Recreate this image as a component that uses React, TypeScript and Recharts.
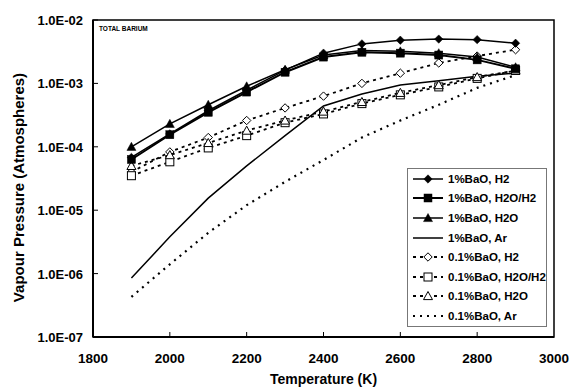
import { LineChart, Line, XAxis, YAxis, Legend, ReferenceArea, Label } from 'recharts'

// temperature (K)
const temps = [1900, 2000, 2100, 2200, 2300, 2400, 2500, 2600, 2700, 2800, 2900]

// vapour pressure (atm), 1% BaO
const bao1H2 = [6.8e-5, 1.6e-4, 3.7e-4, 7.8e-4, 1.62e-3, 3.0e-3, 4.2e-3, 4.8e-3, 5.0e-3, 4.9e-3, 4.3e-3]
const bao1H2OH2 = [6.3e-5, 1.55e-4, 3.5e-4, 7.3e-4, 1.5e-3, 2.6e-3, 3.1e-3, 3.0e-3, 2.8e-3, 2.35e-3, 1.7e-3]
const bao1H2O = [1.0e-4, 2.3e-4, 4.6e-4, 9.0e-4, 1.65e-3, 2.8e-3, 3.3e-3, 3.2e-3, 3.0e-3, 2.6e-3, 1.8e-3]
const bao1Ar = [8.5e-7, 3.8e-6, 1.55e-5, 5.0e-5, 1.5e-4, 4.4e-4, 6.8e-4, 9.4e-4, 1.1e-3, 1.3e-3, 1.45e-3]

// vapour pressure (atm), 0.1% BaO
const bao01H2 = [4.0e-5, 8.3e-5, 1.4e-4, 2.6e-4, 4.1e-4, 6.3e-4, 1.0e-3, 1.45e-3, 2.1e-3, 2.7e-3, 3.4e-3]
const bao01H2OH2 = [3.5e-5, 5.8e-5, 9.6e-5, 1.5e-4, 2.4e-4, 3.3e-4, 4.8e-4, 6.6e-4, 8.8e-4, 1.2e-3, 1.6e-3]
const bao01H2O = [5.0e-5, 7.4e-5, 1.15e-4, 1.8e-4, 2.6e-4, 3.6e-4, 5.1e-4, 7.1e-4, 9.4e-4, 1.26e-3, 1.6e-3]
const bao01Ar = [4.3e-7, 1.4e-6, 4.4e-6, 1.2e-5, 2.8e-5, 6.2e-5, 1.4e-4, 2.6e-4, 4.6e-4, 8.5e-4, 1.35e-3]

const xTicks = [1800, 2000, 2200, 2400, 2600, 2800, 3000]
const yTicks = [1e-7, 1e-6, 1e-5, 1e-4, 1e-3, 1e-2]
const yTickLabels = ['1.0E-07', '1.0E-06', '1.0E-05', '1.0E-04', '1.0E-03', '1.0E-02']

const data = temps.map((t, i) => ({
  t,
  h2_1: bao1H2[i],
  h2oh2_1: bao1H2OH2[i],
  h2o_1: bao1H2O[i],
  ar_1: bao1Ar[i],
  h2_01: bao01H2[i],
  h2oh2_01: bao01H2OH2[i],
  h2o_01: bao01H2O[i],
  ar_01: bao01Ar[i],
}))

type Shape = 'diamond' | 'square' | 'triangle' | 'none'

function Marker({ cx, cy, shape, filled }: { cx: number; cy: number; shape: Shape; filled: boolean }) {
  const fill = filled ? '#000' : '#fff'
  const sw = filled ? 0.5 : 1
  if (shape === 'diamond') {
    const r = 4.2
    return <polygon points={`${cx},${cy - r} ${cx + r},${cy} ${cx},${cy + r} ${cx - r},${cy}`} fill={fill} stroke="#000" strokeWidth={sw} />
  }
  if (shape === 'square') {
    const r = 4
    return <rect x={cx - r} y={cy - r} width={r * 2} height={r * 2} fill={fill} stroke="#000" strokeWidth={sw} />
  }
  if (shape === 'triangle') {
    const r = 4.5
    return <polygon points={`${cx},${cy - r} ${cx + r},${cy + r * 0.8} ${cx - r},${cy + r * 0.8}`} fill={fill} stroke="#000" strokeWidth={sw} />
  }
  return null
}

const series = [
  { key: 'h2_1', name: '1%BaO, H2', shape: 'diamond' as Shape, filled: true, dash: undefined, width: 1.5 },
  { key: 'h2oh2_1', name: '1%BaO, H2O/H2', shape: 'square' as Shape, filled: true, dash: undefined, width: 2 },
  { key: 'h2o_1', name: '1%BaO, H2O', shape: 'triangle' as Shape, filled: true, dash: undefined, width: 1.5 },
  { key: 'ar_1', name: '1%BaO, Ar', shape: 'none' as Shape, filled: true, dash: undefined, width: 1.5 },
  { key: 'h2_01', name: '0.1%BaO, H2', shape: 'diamond' as Shape, filled: false, dash: '3 4', width: 1.8 },
  { key: 'h2oh2_01', name: '0.1%BaO, H2O/H2', shape: 'square' as Shape, filled: false, dash: '3 4', width: 1.8 },
  { key: 'h2o_01', name: '0.1%BaO, H2O', shape: 'triangle' as Shape, filled: false, dash: '3 4', width: 1.8 },
  { key: 'ar_01', name: '0.1%BaO, Ar', shape: 'none' as Shape, filled: false, dash: '2 5', width: 2.2 },
]

const font = 'Arial, "Liberation Sans", sans-serif'

function XTick({ x, y, payload }: any) {
  const v = payload.value
  const inner = v !== 1800 && v !== 3000
  return (
    <g>
      {inner && <line x1={x} y1={y} x2={x} y2={y - 5} stroke="#000" strokeWidth={1} />}
      <text x={x} y={y + 26} textAnchor="middle" fontFamily={font} fontWeight="bold" fontSize={13.5} fill="#000">
        {v}
      </text>
    </g>
  )
}

function YTick({ x, y, payload, index }: any) {
  const label = yTickLabels[yTicks.indexOf(payload.value)] ?? yTickLabels[index]
  return (
    <g>
      <line x1={x} y1={y} x2={x + 5} y2={y} stroke="#000" strokeWidth={1} />
      <text x={x - 10} y={y + 5} textAnchor="end" fontFamily={font} fontWeight="bold" fontSize={13} fill="#000">
        {label}
      </text>
    </g>
  )
}

function YTitle({ viewBox }: any) {
  const px = 18
  const py = viewBox.y + viewBox.height / 2 + 9
  return (
    <text x={px} y={py} transform={`rotate(-90, ${px}, ${py})`} textAnchor="middle" dominantBaseline="central" fontFamily={font} fontWeight="bold" fontSize={15} fill="#000">
      Vapour Pressure (Atmospheres)
    </text>
  )
}

function LegendBox() {
  return (
    <div style={{ border: '1px solid #777', background: '#fff', padding: '0 0 0 3px', width: 140, boxSizing: 'border-box' }}>
      {series.map((s) => (
        <div key={s.key} style={{ display: 'flex', alignItems: 'center', height: 19.6 }}>
          <svg width={34} height={12} style={{ flex: 'none' }}>
            <line x1={2} y1={6} x2={32} y2={6} stroke="#000" strokeWidth={s.width} strokeDasharray={s.dash} />
            <Marker cx={17} cy={6} shape={s.shape} filled={s.filled} />
          </svg>
          <span style={{ fontFamily: font, fontSize: 11.5, fontWeight: 'bold', marginLeft: 3, whiteSpace: 'nowrap' }}>{s.name}</span>
        </div>
      ))}
    </div>
  )
}

export default function App() {
  // draw 0.1% series first so the 1% lines sit on top
  const order = [...series.slice(4), ...series.slice(0, 4)]
  return (
    <div style={{ position: 'absolute', left: 0, top: 0, width: 572, height: 390, background: '#fff' }}>
      <LineChart width={572} height={390} data={data} margin={{ top: 20, right: 18, bottom: 3, left: 13 }}>
        <ReferenceArea x1={1800} x2={3000} y1={1e-7} y2={1e-2} fill="none" stroke="#000" strokeWidth={1.5} ifOverflow="visible">
          <Label value="TOTAL BARIUM" position="insideTopLeft" offset={6} fontSize={6.5} fontWeight="bold" fontFamily={font} fill="#000" />
        </ReferenceArea>
        <XAxis
          dataKey="t"
          type="number"
          domain={[1800, 3000]}
          ticks={xTicks}
          height={50}
          tickSize={0}
          tickMargin={0}
          tick={<XTick />}
          tickLine={false}
          axisLine={{ stroke: '#000', strokeWidth: 2 }}
          label={{ value: 'Temperature (K)', position: 'insideBottom', offset: 3, fontFamily: font, fontWeight: 'bold', fontSize: 14, fill: '#000' }}
        />
        <YAxis
          type="number"
          scale="log"
          domain={[1e-7, 1e-2]}
          ticks={yTicks}
          allowDataOverflow
          width={80}
          tickSize={0}
          tickMargin={0}
          tick={<YTick />}
          tickLine={false}
          axisLine={{ stroke: '#000', strokeWidth: 2 }}
          label={<Label content={<YTitle />} />}
        />
        {order.map((s) => (
          <Line
            key={s.key}
            dataKey={s.key}
            name={s.name}
            type="linear"
            stroke="#000"
            strokeWidth={s.width}
            strokeDasharray={s.dash}
            isAnimationActive={false}
            dot={(p: any) => <Marker key={`${s.key}-${p.index}`} cx={p.cx} cy={p.cy} shape={s.shape} filled={s.filled} />}
            activeDot={false}
          />
        ))}
        <Legend
          layout="vertical"
          align="center"
          verticalAlign="middle"
          content={<LegendBox />}
          wrapperStyle={{ position: 'absolute', left: 407, top: 168, width: 140 }}
        />
      </LineChart>
    </div>
  )
}
